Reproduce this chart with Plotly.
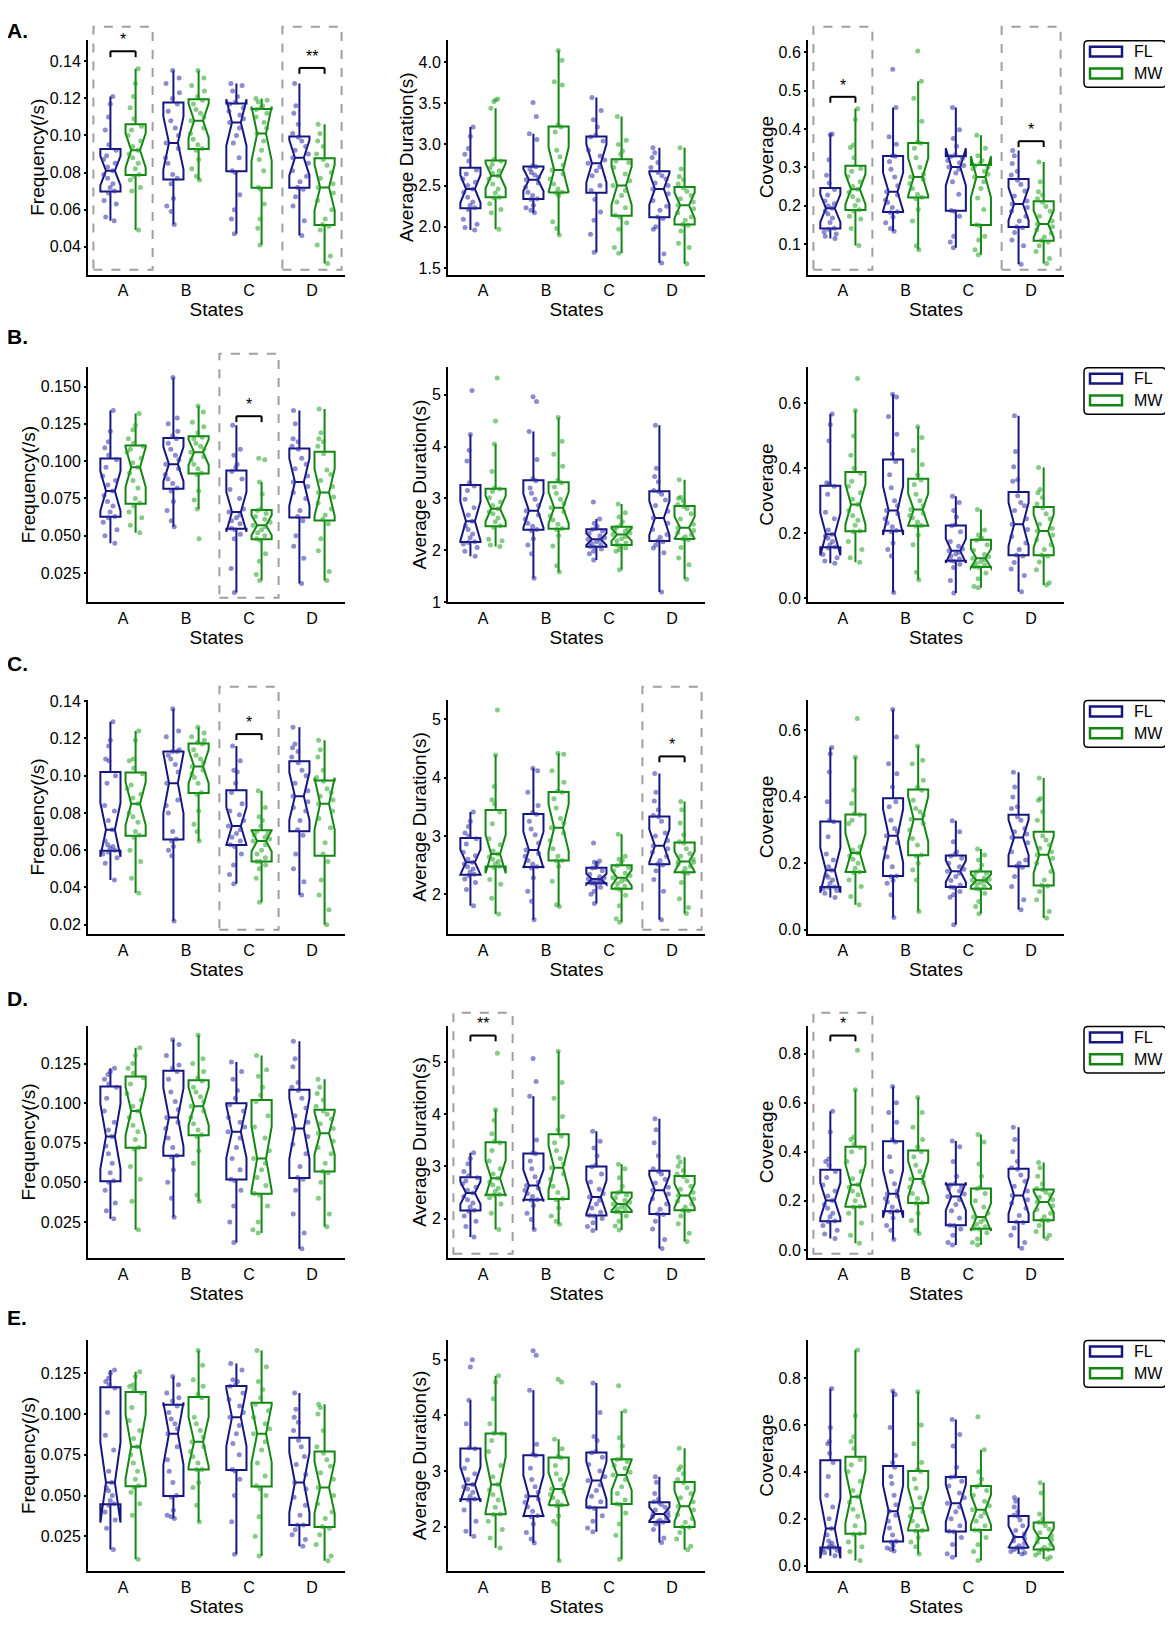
import plotly.graph_objects as go

STATES = ["A", "B", "C", "D"]
GROUPS = ["FL", "MW"]
ROW_LABELS = ["A.", "B.", "C.", "D.", "E."]
Y_TITLES = ["Frequency(/s)", "Average Duration(s)", "Coverage"]
X_TITLE = "States"

# ---- row A ----
freq_a_fl = [
    [0.054, 0.056, 0.063, 0.065, 0.069, 0.070, 0.072, 0.074, 0.077, 0.079, 0.081, 0.083, 0.085, 0.087, 0.089, 0.092, 0.095, 0.103, 0.110, 0.117, 0.121],
    [0.052, 0.059, 0.062, 0.066, 0.074, 0.077, 0.079, 0.085, 0.088, 0.093, 0.096, 0.100, 0.104, 0.108, 0.113, 0.117, 0.120, 0.123, 0.128, 0.131, 0.135],
    [0.047, 0.055, 0.060, 0.068, 0.080, 0.081, 0.088, 0.096, 0.100, 0.104, 0.107, 0.109, 0.111, 0.113, 0.115, 0.117, 0.118, 0.121, 0.124, 0.127, 0.128],
    [0.046, 0.054, 0.062, 0.067, 0.071, 0.072, 0.075, 0.078, 0.081, 0.085, 0.088, 0.090, 0.092, 0.094, 0.097, 0.099, 0.101, 0.106, 0.112, 0.116, 0.128],
]
freq_a_mw = [
    [0.049, 0.070, 0.072, 0.076, 0.078, 0.079, 0.082, 0.085, 0.088, 0.090, 0.092, 0.094, 0.097, 0.100, 0.103, 0.105, 0.109, 0.115, 0.121, 0.128, 0.136],
    [0.076, 0.078, 0.082, 0.087, 0.092, 0.093, 0.095, 0.098, 0.101, 0.104, 0.108, 0.110, 0.112, 0.114, 0.117, 0.119, 0.121, 0.124, 0.127, 0.131, 0.135],
    [0.041, 0.050, 0.055, 0.063, 0.071, 0.072, 0.081, 0.087, 0.092, 0.097, 0.101, 0.104, 0.107, 0.110, 0.112, 0.114, 0.115, 0.116, 0.118, 0.119, 0.120],
    [0.031, 0.035, 0.041, 0.049, 0.051, 0.052, 0.055, 0.060, 0.065, 0.069, 0.072, 0.074, 0.077, 0.080, 0.084, 0.087, 0.090, 0.094, 0.097, 0.101, 0.106],
]
dur_a_fl = [
    [1.96, 1.99, 2.03, 2.09, 2.21, 2.23, 2.26, 2.30, 2.36, 2.42, 2.46, 2.50, 2.54, 2.58, 2.64, 2.69, 2.80, 2.88, 2.95, 3.10, 3.21],
    [2.17, 2.20, 2.23, 2.26, 2.33, 2.34, 2.38, 2.42, 2.48, 2.53, 2.57, 2.60, 2.63, 2.66, 2.70, 2.73, 2.74, 3.06, 3.13, 3.34, 3.51],
    [1.69, 1.91, 2.08, 2.18, 2.33, 2.44, 2.50, 2.62, 2.68, 2.73, 2.77, 2.81, 2.86, 2.93, 3.04, 3.09, 3.11, 3.21, 3.30, 3.41, 3.57],
    [1.56, 1.67, 1.97, 2.00, 2.10, 2.12, 2.20, 2.25, 2.32, 2.40, 2.46, 2.50, 2.53, 2.58, 2.62, 2.66, 2.72, 2.78, 2.84, 2.90, 2.96],
]
dur_a_mw = [
    [1.97, 2.17, 2.21, 2.28, 2.35, 2.36, 2.41, 2.46, 2.52, 2.58, 2.62, 2.65, 2.68, 2.71, 2.76, 2.80, 2.82, 3.44, 3.52, 3.54, 3.55],
    [1.90, 1.98, 2.06, 2.38, 2.41, 2.42, 2.46, 2.52, 2.58, 2.64, 2.69, 2.75, 2.85, 2.93, 3.15, 3.21, 3.24, 3.72, 3.76, 4.02, 4.14],
    [1.68, 1.75, 1.97, 2.05, 2.12, 2.14, 2.23, 2.30, 2.38, 2.44, 2.50, 2.56, 2.64, 2.72, 2.78, 2.80, 2.88, 2.92, 3.00, 3.05, 3.34],
    [1.55, 1.75, 1.80, 1.95, 2.02, 2.03, 2.08, 2.12, 2.17, 2.22, 2.26, 2.30, 2.34, 2.38, 2.43, 2.47, 2.52, 2.57, 2.61, 2.70, 2.96],
]
cov_a_fl = [
    [0.114, 0.120, 0.126, 0.131, 0.138, 0.141, 0.156, 0.168, 0.178, 0.186, 0.193, 0.199, 0.205, 0.212, 0.228, 0.242, 0.259, 0.279, 0.320, 0.385, 0.387],
    [0.133, 0.140, 0.155, 0.170, 0.182, 0.184, 0.195, 0.208, 0.215, 0.228, 0.236, 0.252, 0.275, 0.295, 0.315, 0.329, 0.330, 0.360, 0.380, 0.456, 0.556],
    [0.090, 0.105, 0.120, 0.172, 0.185, 0.187, 0.230, 0.262, 0.285, 0.295, 0.301, 0.305, 0.312, 0.318, 0.324, 0.328, 0.332, 0.355, 0.375, 0.398, 0.456],
    [0.047, 0.095, 0.110, 0.130, 0.142, 0.145, 0.160, 0.172, 0.185, 0.195, 0.204, 0.212, 0.225, 0.238, 0.255, 0.266, 0.280, 0.290, 0.310, 0.330, 0.344],
]
cov_a_mw = [
    [0.096, 0.140, 0.165, 0.172, 0.186, 0.189, 0.200, 0.214, 0.224, 0.235, 0.243, 0.250, 0.262, 0.276, 0.290, 0.297, 0.325, 0.352, 0.358, 0.425, 0.453],
    [0.085, 0.095, 0.160, 0.190, 0.218, 0.222, 0.230, 0.245, 0.258, 0.268, 0.275, 0.282, 0.300, 0.325, 0.350, 0.363, 0.366, 0.420, 0.480, 0.525, 0.604],
    [0.072, 0.085, 0.110, 0.120, 0.148, 0.150, 0.190, 0.220, 0.245, 0.262, 0.275, 0.282, 0.290, 0.296, 0.300, 0.305, 0.310, 0.318, 0.330, 0.350, 0.384],
    [0.049, 0.062, 0.080, 0.095, 0.105, 0.109, 0.118, 0.128, 0.137, 0.145, 0.152, 0.160, 0.172, 0.185, 0.198, 0.209, 0.218, 0.228, 0.236, 0.262, 0.314],
]

# ---- row B ----
freq_b_fl = [
    [0.045, 0.050, 0.054, 0.059, 0.062, 0.063, 0.066, 0.070, 0.073, 0.077, 0.080, 0.084, 0.087, 0.090, 0.096, 0.101, 0.104, 0.109, 0.113, 0.120, 0.134],
    [0.056, 0.060, 0.067, 0.073, 0.080, 0.082, 0.085, 0.088, 0.091, 0.095, 0.098, 0.101, 0.104, 0.108, 0.112, 0.115, 0.117, 0.120, 0.125, 0.129, 0.156],
    [0.012, 0.028, 0.048, 0.051, 0.054, 0.055, 0.058, 0.060, 0.062, 0.064, 0.066, 0.068, 0.075, 0.081, 0.088, 0.093, 0.096, 0.098, 0.104, 0.108, 0.124],
    [0.018, 0.035, 0.043, 0.050, 0.060, 0.063, 0.067, 0.075, 0.079, 0.083, 0.086, 0.090, 0.095, 0.098, 0.102, 0.108, 0.110, 0.113, 0.115, 0.125, 0.134],
]
freq_b_mw = [
    [0.052, 0.057, 0.062, 0.066, 0.070, 0.072, 0.075, 0.082, 0.087, 0.092, 0.096, 0.099, 0.102, 0.106, 0.108, 0.110, 0.112, 0.115, 0.121, 0.124, 0.132],
    [0.048, 0.068, 0.074, 0.080, 0.091, 0.092, 0.095, 0.098, 0.101, 0.103, 0.106, 0.108, 0.110, 0.112, 0.115, 0.116, 0.119, 0.123, 0.126, 0.133, 0.137],
    [0.020, 0.024, 0.033, 0.038, 0.047, 0.048, 0.050, 0.052, 0.054, 0.056, 0.057, 0.059, 0.061, 0.063, 0.065, 0.067, 0.068, 0.078, 0.086, 0.101, 0.102],
    [0.020, 0.026, 0.040, 0.048, 0.058, 0.061, 0.064, 0.068, 0.072, 0.076, 0.079, 0.083, 0.087, 0.091, 0.094, 0.105, 0.110, 0.113, 0.115, 0.119, 0.135],
]
dur_b_fl = [
    [1.88, 1.98, 2.05, 2.12, 2.15, 2.16, 2.24, 2.31, 2.40, 2.47, 2.56, 2.68, 2.82, 2.98, 3.15, 3.24, 3.30, 3.72, 3.93, 4.23, 5.08],
    [1.46, 1.93, 2.10, 2.22, 2.38, 2.40, 2.46, 2.52, 2.60, 2.68, 2.76, 2.86, 2.98, 3.10, 3.20, 3.34, 3.38, 3.75, 4.29, 4.87, 4.96],
    [1.81, 1.93, 1.98, 2.02, 2.06, 2.07, 2.10, 2.13, 2.16, 2.19, 2.21, 2.24, 2.28, 2.32, 2.37, 2.40, 2.42, 2.46, 2.52, 2.60, 2.93],
    [1.19, 1.95, 2.04, 2.10, 2.16, 2.18, 2.25, 2.30, 2.40, 2.52, 2.62, 2.75, 2.86, 2.97, 3.08, 3.13, 3.15, 3.32, 3.42, 3.58, 4.41],
]
dur_b_mw = [
    [2.07, 2.10, 2.18, 2.21, 2.44, 2.47, 2.55, 2.62, 2.70, 2.74, 2.80, 2.86, 2.93, 3.01, 3.13, 3.18, 3.20, 3.52, 4.05, 4.49, 5.32],
    [1.58, 1.70, 2.08, 2.28, 2.40, 2.42, 2.50, 2.58, 2.66, 2.74, 2.82, 2.90, 2.98, 3.10, 3.22, 3.30, 3.35, 3.62, 3.85, 4.10, 4.56],
    [1.62, 1.98, 2.01, 2.04, 2.09, 2.10, 2.14, 2.18, 2.22, 2.26, 2.30, 2.33, 2.36, 2.39, 2.42, 2.44, 2.48, 2.55, 2.64, 2.72, 2.89],
    [1.44, 1.72, 1.85, 2.05, 2.20, 2.22, 2.26, 2.30, 2.34, 2.38, 2.43, 2.50, 2.60, 2.70, 2.80, 2.84, 2.88, 2.95, 3.00, 3.02, 3.36],
]
cov_b_fl = [
    [0.108, 0.115, 0.125, 0.135, 0.155, 0.158, 0.165, 0.175, 0.185, 0.192, 0.197, 0.210, 0.245, 0.265, 0.320, 0.345, 0.352, 0.356, 0.485, 0.535, 0.567],
    [0.018, 0.130, 0.150, 0.170, 0.205, 0.209, 0.220, 0.232, 0.245, 0.260, 0.270, 0.285, 0.300, 0.340, 0.380, 0.421, 0.445, 0.505, 0.560, 0.620, 0.628],
    [0.016, 0.055, 0.095, 0.105, 0.114, 0.116, 0.122, 0.130, 0.136, 0.142, 0.146, 0.152, 0.160, 0.175, 0.205, 0.223, 0.226, 0.250, 0.270, 0.295, 0.314],
    [0.020, 0.070, 0.090, 0.110, 0.130, 0.133, 0.150, 0.170, 0.190, 0.212, 0.228, 0.245, 0.270, 0.285, 0.295, 0.316, 0.360, 0.365, 0.405, 0.452, 0.562],
]
cov_b_mw = [
    [0.111, 0.125, 0.150, 0.175, 0.205, 0.207, 0.225, 0.240, 0.255, 0.270, 0.289, 0.305, 0.325, 0.345, 0.360, 0.385, 0.400, 0.440, 0.500, 0.578, 0.677],
    [0.057, 0.080, 0.165, 0.195, 0.222, 0.224, 0.235, 0.248, 0.255, 0.262, 0.273, 0.285, 0.300, 0.320, 0.350, 0.364, 0.380, 0.412, 0.455, 0.495, 0.528],
    [0.032, 0.036, 0.060, 0.078, 0.095, 0.097, 0.102, 0.108, 0.113, 0.118, 0.123, 0.128, 0.135, 0.148, 0.165, 0.179, 0.183, 0.186, 0.195, 0.210, 0.273],
    [0.041, 0.048, 0.088, 0.112, 0.130, 0.133, 0.150, 0.165, 0.180, 0.195, 0.207, 0.215, 0.228, 0.245, 0.260, 0.278, 0.290, 0.310, 0.325, 0.335, 0.403],
]

# ---- row C ----
freq_c_fl = [
    [0.044, 0.053, 0.056, 0.058, 0.059, 0.060, 0.061, 0.062, 0.063, 0.065, 0.071, 0.076, 0.081, 0.084, 0.096, 0.100, 0.108, 0.109, 0.116, 0.119, 0.129],
    [0.022, 0.057, 0.060, 0.062, 0.065, 0.066, 0.070, 0.080, 0.084, 0.087, 0.096, 0.102, 0.106, 0.109, 0.111, 0.113, 0.113, 0.114, 0.121, 0.124, 0.136],
    [0.042, 0.047, 0.052, 0.058, 0.062, 0.063, 0.065, 0.067, 0.069, 0.071, 0.073, 0.076, 0.079, 0.081, 0.085, 0.091, 0.096, 0.102, 0.103, 0.108, 0.116],
    [0.036, 0.043, 0.050, 0.058, 0.068, 0.071, 0.076, 0.081, 0.083, 0.086, 0.089, 0.092, 0.096, 0.100, 0.103, 0.107, 0.110, 0.113, 0.115, 0.117, 0.126],
]
freq_c_mw = [
    [0.037, 0.045, 0.054, 0.060, 0.067, 0.068, 0.070, 0.075, 0.078, 0.080, 0.085, 0.088, 0.090, 0.093, 0.095, 0.101, 0.104, 0.108, 0.109, 0.119, 0.124],
    [0.065, 0.070, 0.074, 0.081, 0.090, 0.091, 0.096, 0.099, 0.101, 0.103, 0.105, 0.107, 0.109, 0.111, 0.114, 0.117, 0.118, 0.119, 0.121, 0.123, 0.126],
    [0.032, 0.045, 0.050, 0.052, 0.054, 0.054, 0.056, 0.058, 0.060, 0.063, 0.065, 0.066, 0.067, 0.068, 0.069, 0.070, 0.073, 0.076, 0.078, 0.083, 0.092],
    [0.020, 0.028, 0.036, 0.044, 0.054, 0.058, 0.064, 0.072, 0.077, 0.081, 0.085, 0.087, 0.089, 0.091, 0.093, 0.097, 0.099, 0.103, 0.110, 0.114, 0.119],
]
dur_c_fl = [
    [1.80, 2.08, 2.20, 2.26, 2.32, 2.34, 2.38, 2.43, 2.47, 2.52, 2.55, 2.60, 2.66, 2.72, 2.86, 2.95, 3.00, 3.05, 3.16, 3.25, 3.41],
    [1.56, 1.88, 2.05, 2.28, 2.45, 2.47, 2.52, 2.58, 2.65, 2.70, 2.76, 2.88, 3.02, 3.12, 3.25, 3.37, 3.40, 3.52, 3.75, 4.12, 4.16],
    [1.84, 2.00, 2.05, 2.12, 2.18, 2.19, 2.20, 2.22, 2.23, 2.24, 2.26, 2.28, 2.30, 2.34, 2.40, 2.45, 2.46, 2.52, 2.55, 2.57, 2.88],
    [1.56, 2.05, 2.25, 2.40, 2.50, 2.52, 2.58, 2.65, 2.72, 2.78, 2.83, 2.92, 3.00, 3.05, 3.25, 3.33, 3.35, 3.45, 3.60, 3.75, 4.07],
]
dur_c_mw = [
    [1.66, 1.93, 2.17, 2.25, 2.46, 2.48, 2.52, 2.56, 2.60, 2.64, 2.69, 2.74, 2.85, 2.95, 3.21, 3.41, 3.55, 3.62, 3.85, 4.39, 5.16],
    [1.79, 1.82, 2.22, 2.48, 2.57, 2.58, 2.65, 2.78, 2.92, 3.05, 3.14, 3.22, 3.30, 3.48, 3.64, 3.75, 3.77, 3.92, 4.12, 4.40, 4.42],
    [1.52, 1.58, 1.80, 1.98, 2.08, 2.10, 2.14, 2.18, 2.22, 2.25, 2.28, 2.32, 2.36, 2.40, 2.46, 2.49, 2.52, 2.58, 2.60, 2.65, 3.03],
    [1.67, 1.77, 1.92, 2.20, 2.36, 2.38, 2.44, 2.48, 2.52, 2.55, 2.56, 2.60, 2.65, 2.70, 2.78, 2.88, 2.90, 3.02, 3.22, 3.45, 3.59],
]
cov_c_fl = [
    [0.097, 0.110, 0.118, 0.124, 0.128, 0.129, 0.140, 0.150, 0.158, 0.165, 0.179, 0.190, 0.210, 0.228, 0.280, 0.325, 0.330, 0.385, 0.475, 0.530, 0.549],
    [0.037, 0.105, 0.140, 0.148, 0.160, 0.162, 0.190, 0.220, 0.245, 0.262, 0.283, 0.295, 0.305, 0.330, 0.370, 0.385, 0.430, 0.470, 0.500, 0.580, 0.663],
    [0.015, 0.098, 0.105, 0.115, 0.127, 0.129, 0.135, 0.148, 0.160, 0.170, 0.176, 0.182, 0.190, 0.200, 0.215, 0.222, 0.228, 0.235, 0.265, 0.295, 0.328],
    [0.060, 0.090, 0.130, 0.160, 0.188, 0.192, 0.200, 0.210, 0.235, 0.262, 0.278, 0.288, 0.295, 0.305, 0.330, 0.340, 0.365, 0.370, 0.400, 0.430, 0.474],
]
cov_c_mw = [
    [0.075, 0.100, 0.130, 0.150, 0.172, 0.174, 0.185, 0.200, 0.212, 0.222, 0.231, 0.240, 0.250, 0.320, 0.330, 0.346, 0.350, 0.380, 0.420, 0.519, 0.636],
    [0.055, 0.150, 0.180, 0.200, 0.222, 0.225, 0.255, 0.275, 0.300, 0.320, 0.333, 0.345, 0.355, 0.365, 0.390, 0.420, 0.430, 0.450, 0.500, 0.510, 0.553],
    [0.048, 0.070, 0.085, 0.110, 0.122, 0.124, 0.130, 0.137, 0.142, 0.146, 0.149, 0.152, 0.156, 0.162, 0.170, 0.174, 0.180, 0.195, 0.210, 0.225, 0.243],
    [0.035, 0.055, 0.090, 0.115, 0.132, 0.134, 0.150, 0.175, 0.200, 0.215, 0.226, 0.235, 0.245, 0.255, 0.270, 0.283, 0.330, 0.355, 0.390, 0.395, 0.457],
]

# ---- row D ----
freq_d_fl = [
    [0.027, 0.032, 0.037, 0.045, 0.050, 0.051, 0.056, 0.062, 0.068, 0.073, 0.079, 0.083, 0.088, 0.095, 0.103, 0.110, 0.112, 0.115, 0.118, 0.120, 0.122],
    [0.028, 0.040, 0.050, 0.058, 0.066, 0.067, 0.072, 0.078, 0.084, 0.088, 0.091, 0.096, 0.101, 0.107, 0.115, 0.120, 0.122, 0.124, 0.130, 0.137, 0.140],
    [0.012, 0.025, 0.035, 0.045, 0.051, 0.052, 0.058, 0.065, 0.072, 0.078, 0.082, 0.085, 0.088, 0.091, 0.095, 0.099, 0.103, 0.108, 0.115, 0.120, 0.126],
    [0.008, 0.018, 0.030, 0.045, 0.052, 0.053, 0.060, 0.068, 0.074, 0.079, 0.084, 0.088, 0.092, 0.097, 0.103, 0.108, 0.110, 0.113, 0.123, 0.128, 0.139],
]
freq_d_mw = [
    [0.020, 0.038, 0.052, 0.060, 0.071, 0.072, 0.077, 0.082, 0.086, 0.091, 0.095, 0.098, 0.102, 0.106, 0.112, 0.116, 0.119, 0.122, 0.125, 0.130, 0.135],
    [0.038, 0.042, 0.062, 0.070, 0.079, 0.080, 0.083, 0.087, 0.091, 0.095, 0.098, 0.101, 0.104, 0.107, 0.110, 0.114, 0.116, 0.120, 0.125, 0.128, 0.143],
    [0.018, 0.020, 0.025, 0.035, 0.042, 0.043, 0.048, 0.053, 0.058, 0.062, 0.065, 0.070, 0.078, 0.085, 0.092, 0.101, 0.105, 0.110, 0.117, 0.121, 0.130],
    [0.022, 0.030, 0.040, 0.050, 0.056, 0.057, 0.062, 0.068, 0.072, 0.076, 0.081, 0.084, 0.087, 0.090, 0.093, 0.095, 0.098, 0.102, 0.106, 0.110, 0.115],
]
dur_d_fl = [
    [1.65, 1.85, 1.95, 2.05, 2.14, 2.16, 2.22, 2.30, 2.36, 2.42, 2.49, 2.54, 2.60, 2.66, 2.72, 2.78, 2.82, 2.90, 3.05, 3.15, 3.26],
    [1.79, 1.98, 2.10, 2.25, 2.35, 2.36, 2.42, 2.48, 2.54, 2.58, 2.63, 2.70, 2.80, 2.95, 3.10, 3.24, 3.26, 3.50, 4.34, 4.62, 5.06],
    [1.77, 1.85, 1.92, 2.00, 2.05, 2.06, 2.12, 2.20, 2.28, 2.35, 2.41, 2.48, 2.56, 2.70, 2.85, 2.99, 3.02, 3.20, 3.35, 3.48, 3.67],
    [1.43, 1.60, 1.80, 1.95, 2.08, 2.09, 2.18, 2.28, 2.38, 2.47, 2.54, 2.60, 2.68, 2.75, 2.85, 2.90, 2.95, 3.20, 3.45, 3.70, 3.91],
]
dur_d_mw = [
    [1.79, 2.10, 2.28, 2.40, 2.45, 2.46, 2.52, 2.58, 2.64, 2.70, 2.77, 2.85, 2.95, 3.10, 3.30, 3.45, 3.48, 3.62, 3.88, 4.08, 5.16],
    [1.89, 1.95, 2.05, 2.20, 2.36, 2.38, 2.50, 2.62, 2.75, 2.85, 2.97, 3.05, 3.15, 3.30, 3.45, 3.58, 3.70, 3.95, 4.30, 4.60, 5.20],
    [1.78, 1.86, 1.95, 2.05, 2.12, 2.13, 2.16, 2.19, 2.22, 2.25, 2.28, 2.31, 2.35, 2.40, 2.45, 2.49, 2.52, 2.62, 2.78, 2.95, 3.04],
    [1.56, 1.72, 1.90, 2.05, 2.15, 2.16, 2.22, 2.28, 2.33, 2.38, 2.44, 2.50, 2.56, 2.62, 2.72, 2.80, 2.85, 2.92, 3.00, 3.08, 3.17],
]
cov_d_fl = [
    [0.047, 0.065, 0.080, 0.100, 0.115, 0.118, 0.135, 0.150, 0.170, 0.185, 0.202, 0.220, 0.240, 0.265, 0.295, 0.320, 0.345, 0.360, 0.370, 0.480, 0.565],
    [0.043, 0.080, 0.100, 0.130, 0.155, 0.159, 0.175, 0.195, 0.210, 0.220, 0.229, 0.240, 0.270, 0.320, 0.380, 0.440, 0.450, 0.520, 0.560, 0.600, 0.666],
    [0.020, 0.030, 0.060, 0.085, 0.100, 0.101, 0.130, 0.160, 0.185, 0.205, 0.218, 0.228, 0.240, 0.250, 0.258, 0.266, 0.270, 0.300, 0.360, 0.420, 0.444],
    [0.007, 0.030, 0.060, 0.090, 0.112, 0.114, 0.140, 0.170, 0.190, 0.205, 0.222, 0.240, 0.260, 0.280, 0.305, 0.329, 0.335, 0.360, 0.400, 0.450, 0.500],
]
cov_d_mw = [
    [0.027, 0.060, 0.110, 0.150, 0.175, 0.177, 0.200, 0.225, 0.240, 0.255, 0.266, 0.290, 0.320, 0.360, 0.400, 0.417, 0.430, 0.450, 0.460, 0.652, 0.813],
    [0.067, 0.080, 0.120, 0.150, 0.190, 0.192, 0.210, 0.230, 0.255, 0.275, 0.289, 0.300, 0.320, 0.345, 0.380, 0.400, 0.420, 0.450, 0.500, 0.560, 0.621],
    [0.020, 0.030, 0.045, 0.070, 0.085, 0.087, 0.095, 0.105, 0.115, 0.125, 0.134, 0.150, 0.175, 0.200, 0.230, 0.249, 0.255, 0.300, 0.350, 0.440, 0.470],
    [0.047, 0.060, 0.075, 0.100, 0.120, 0.121, 0.135, 0.150, 0.165, 0.180, 0.195, 0.205, 0.215, 0.225, 0.235, 0.245, 0.250, 0.270, 0.300, 0.335, 0.356],
]

# ---- row E ----
freq_e_fl = [
    [0.017, 0.030, 0.035, 0.040, 0.044, 0.045, 0.047, 0.050, 0.053, 0.055, 0.058, 0.065, 0.078, 0.087, 0.101, 0.116, 0.118, 0.120, 0.122, 0.125, 0.127],
    [0.036, 0.037, 0.038, 0.041, 0.049, 0.050, 0.058, 0.065, 0.072, 0.080, 0.088, 0.091, 0.094, 0.097, 0.101, 0.105, 0.108, 0.110, 0.113, 0.118, 0.123],
    [0.014, 0.034, 0.050, 0.060, 0.065, 0.066, 0.075, 0.082, 0.088, 0.093, 0.098, 0.101, 0.105, 0.109, 0.113, 0.117, 0.118, 0.120, 0.121, 0.127, 0.131],
    [0.019, 0.023, 0.026, 0.029, 0.032, 0.032, 0.038, 0.044, 0.049, 0.054, 0.058, 0.063, 0.069, 0.074, 0.080, 0.084, 0.090, 0.095, 0.098, 0.103, 0.113],
]
freq_e_mw = [
    [0.011, 0.038, 0.045, 0.052, 0.055, 0.056, 0.060, 0.065, 0.070, 0.075, 0.080, 0.085, 0.090, 0.096, 0.104, 0.113, 0.115, 0.117, 0.118, 0.123, 0.126],
    [0.034, 0.044, 0.055, 0.058, 0.066, 0.066, 0.070, 0.074, 0.077, 0.080, 0.083, 0.086, 0.090, 0.094, 0.098, 0.110, 0.112, 0.117, 0.121, 0.130, 0.139],
    [0.013, 0.025, 0.037, 0.050, 0.054, 0.056, 0.062, 0.070, 0.078, 0.083, 0.088, 0.091, 0.094, 0.098, 0.102, 0.106, 0.110, 0.115, 0.120, 0.129, 0.139],
    [0.010, 0.013, 0.020, 0.026, 0.030, 0.031, 0.036, 0.040, 0.045, 0.050, 0.055, 0.060, 0.064, 0.068, 0.072, 0.076, 0.080, 0.090, 0.100, 0.104, 0.106],
]
dur_e_fl = [
    [1.83, 1.92, 2.10, 2.30, 2.48, 2.50, 2.55, 2.62, 2.68, 2.72, 2.76, 2.85, 2.95, 3.05, 3.20, 3.40, 3.42, 3.85, 4.27, 4.87, 5.00],
    [1.71, 1.78, 1.90, 2.05, 2.18, 2.20, 2.28, 2.36, 2.44, 2.50, 2.55, 2.62, 2.72, 2.85, 3.05, 3.28, 3.30, 3.48, 4.45, 5.08, 5.16],
    [1.91, 1.98, 2.10, 2.20, 2.33, 2.35, 2.45, 2.55, 2.65, 2.75, 2.83, 2.90, 3.00, 3.12, 3.25, 3.33, 3.35, 3.55, 3.62, 4.05, 4.58],
    [1.72, 1.80, 1.95, 2.05, 2.08, 2.09, 2.12, 2.15, 2.18, 2.20, 2.23, 2.26, 2.30, 2.35, 2.40, 2.44, 2.45, 2.50, 2.60, 2.80, 2.90],
]
dur_e_mw = [
    [1.62, 1.80, 1.95, 2.10, 2.22, 2.23, 2.35, 2.48, 2.58, 2.66, 2.76, 2.90, 3.10, 3.35, 3.55, 3.67, 3.68, 3.85, 4.30, 4.60, 4.71],
    [1.39, 2.05, 2.10, 2.20, 2.38, 2.39, 2.45, 2.52, 2.58, 2.63, 2.68, 2.75, 2.85, 2.95, 3.10, 3.24, 3.26, 3.40, 3.57, 4.60, 4.65],
    [1.42, 1.85, 2.05, 2.25, 2.40, 2.41, 2.48, 2.60, 2.72, 2.85, 2.93, 2.98, 3.05, 3.10, 3.17, 3.21, 3.22, 3.45, 3.60, 4.08, 4.53],
    [1.59, 1.65, 1.78, 1.90, 1.99, 2.00, 2.08, 2.15, 2.22, 2.30, 2.37, 2.45, 2.52, 2.60, 2.70, 2.79, 2.85, 2.95, 3.03, 3.08, 3.41],
]
cov_e_fl = [
    [0.042, 0.055, 0.065, 0.070, 0.076, 0.078, 0.085, 0.095, 0.105, 0.130, 0.158, 0.200, 0.250, 0.300, 0.380, 0.440, 0.480, 0.520, 0.530, 0.590, 0.756],
    [0.062, 0.068, 0.075, 0.085, 0.100, 0.104, 0.130, 0.160, 0.190, 0.215, 0.232, 0.260, 0.300, 0.350, 0.380, 0.420, 0.440, 0.470, 0.590, 0.730, 0.745],
    [0.035, 0.050, 0.090, 0.120, 0.144, 0.146, 0.170, 0.200, 0.230, 0.250, 0.266, 0.290, 0.310, 0.340, 0.360, 0.377, 0.380, 0.420, 0.510, 0.560, 0.624],
    [0.049, 0.055, 0.060, 0.068, 0.075, 0.076, 0.085, 0.095, 0.105, 0.115, 0.122, 0.135, 0.150, 0.170, 0.195, 0.211, 0.215, 0.230, 0.250, 0.275, 0.291],
]
cov_e_mw = [
    [0.021, 0.060, 0.080, 0.100, 0.134, 0.136, 0.170, 0.210, 0.240, 0.270, 0.294, 0.320, 0.360, 0.400, 0.430, 0.453, 0.500, 0.530, 0.550, 0.640, 0.920],
    [0.049, 0.080, 0.100, 0.120, 0.148, 0.150, 0.170, 0.190, 0.210, 0.230, 0.245, 0.265, 0.290, 0.330, 0.370, 0.402, 0.410, 0.440, 0.520, 0.600, 0.742],
    [0.021, 0.060, 0.090, 0.120, 0.150, 0.152, 0.170, 0.190, 0.210, 0.225, 0.238, 0.255, 0.275, 0.300, 0.320, 0.338, 0.345, 0.370, 0.400, 0.495, 0.635],
    [0.028, 0.035, 0.045, 0.055, 0.068, 0.069, 0.078, 0.090, 0.100, 0.110, 0.118, 0.128, 0.140, 0.155, 0.170, 0.183, 0.185, 0.200, 0.220, 0.310, 0.354],
]

PANELS = [
    [(freq_a_fl, freq_a_mw), (dur_a_fl, dur_a_mw), (cov_a_fl, cov_a_mw)],
    [(freq_b_fl, freq_b_mw), (dur_b_fl, dur_b_mw), (cov_b_fl, cov_b_mw)],
    [(freq_c_fl, freq_c_mw), (dur_c_fl, dur_c_mw), (cov_c_fl, cov_c_mw)],
    [(freq_d_fl, freq_d_mw), (dur_d_fl, dur_d_mw), (cov_d_fl, cov_d_mw)],
    [(freq_e_fl, freq_e_mw), (dur_e_fl, dur_e_mw), (cov_e_fl, cov_e_mw)],
]

# significant comparisons: (row, column, state, stars)
SIGNIF = [
    (0, 0, "A", "*"), (0, 0, "D", "**"),
    (0, 2, "A", "*"), (0, 2, "D", "*"),
    (1, 0, "C", "*"),
    (2, 0, "C", "*"), (2, 1, "D", "*"),
    (3, 1, "A", "**"), (3, 2, "A", "*"),
]

# ---- styling / layout ----
# the page puts some space around the figure, so it is drawn a bit smaller
# than the window and screen positions below are shifted by that space
OFF_X, OFF_Y = 8, 15
FW, FH = 1173 - 2 * OFF_X, 1614
COLORS = {"FL": "#16167f", "MW": "#138613"}
POINT_COLORS = {"FL": "rgba(45,45,165,0.55)", "MW": "rgba(35,160,35,0.55)"}
FONT = "Arial, Liberation Sans, sans-serif"

COL_PX = [(88, 345), (448, 705), (808, 1064)]
# the last row sits a little higher so its axis title stays on the page
ROW_PX = [(40, 277), (370, 608), (706, 943), (1035, 1270), (1352, 1586)]
LABEL_Y_PX = [15, 340, 670, 1008, 1330]
X_RANGE = [-0.556, 3.524]

Y_RANGES = [
    [(0.025, 0.1516), (1.42, 4.27), (0.02, 0.633)],
    [(0.0053, 0.1633), (0.99, 5.54), (-0.013, 0.713)],
    [(0.0148, 0.1409), (1.31, 5.34), (-0.014, 0.693)],
    [(0.002, 0.149), (1.24, 5.69), (-0.034, 0.914)],
    [(0.0035, 0.1457), (1.2, 5.36), (-0.025, 0.965)],
]
Y_TICKS = [
    [(0.04, 0.02, ".2f"), (1.5, 0.5, ".1f"), (0.1, 0.1, ".1f")],
    [(0.025, 0.025, ".3f"), (1, 1, "d"), (0, 0.2, ".1f")],
    [(0.02, 0.02, ".2f"), (2, 1, "d"), (0, 0.2, ".1f")],
    [(0.025, 0.025, ".3f"), (2, 1, "d"), (0, 0.2, ".1f")],
    [(0.025, 0.025, ".3f"), (2, 1, "d"), (0, 0.2, ".1f")],
]
# bracket height (fraction of the axis domain) for each significant comparison
BRACKET_Y = [0.951, 0.88, 0.757, 0.568, 0.79, 0.853, 0.758, 0.957, 0.957]


def sx(x):
    return (x - OFF_X) / FW


def sy(y):
    return 1 - (y - OFF_Y) / FH


def xfrac(v):
    return (v - X_RANGE[0]) / (X_RANGE[1] - X_RANGE[0])


fig = go.Figure()
layout = dict(
    width=FW, height=FH,
    margin=dict(l=0, r=0, t=0, b=0),
    paper_bgcolor="white", plot_bgcolor="white",
    font=dict(family=FONT, color="black", size=16),
    boxmode="group", boxgap=0.2, boxgroupgap=0.2,
    showlegend=False,
    shapes=[], annotations=[],
)

for r in range(5):
    layout["annotations"].append(dict(
        x=sx(5), y=min(sy(LABEL_Y_PX[r]), 0.999), xref="paper", yref="paper",
        text="<b>%s</b>" % ROW_LABELS[r], showarrow=False,
        xanchor="left", yanchor="middle" if r else "top", font=dict(size=21, family=FONT),
    ))

    # legend drawn by hand: rounded frame, outlined swatches and labels
    top = ROW_PX[r][0] + 1
    lx0, lx1, ly0, ly1 = 1084, 1166, top, top + 47
    rad = 4
    pts = [
        ("M", lx0 + rad, ly0), ("L", lx1 - rad, ly0), ("Q", lx1, ly0, lx1, ly0 + rad),
        ("L", lx1, ly1 - rad), ("Q", lx1, ly1, lx1 - rad, ly1), ("L", lx0 + rad, ly1),
        ("Q", lx0, ly1, lx0, ly1 - rad), ("L", lx0, ly0 + rad), ("Q", lx0, ly0, lx0 + rad, ly0),
    ]
    path = ""
    for p in pts:
        coords = ["%.5f,%.5f" % (sx(p[i]), sy(p[i + 1])) for i in range(1, len(p), 2)]
        path += p[0] + " " + " ".join(coords) + " "
    layout["shapes"].append(dict(type="path", xref="paper", yref="paper", path=path + "Z",
                                 line=dict(color="black", width=1.5), fillcolor="white"))
    for i, g in enumerate(GROUPS):
        top_i = top + 6 + 22 * i
        layout["shapes"].append(dict(type="rect", xref="paper", yref="paper",
                                     x0=sx(1090), y0=sy(top_i), x1=sx(1122), y1=sy(top_i + 10),
                                     line=dict(color=COLORS[g], width=2.5),
                                     fillcolor="rgba(0,0,0,0)"))
        layout["annotations"].append(dict(
            x=sx(1132), y=sy(top_i + 5), xref="paper", yref="paper", text=g, showarrow=False,
            xanchor="left", yanchor="middle", font=dict(size=16, family=FONT),
        ))

    for c in range(3):
        k = r * 3 + c
        s = "" if k == 0 else str(k + 1)
        x0, x1 = COL_PX[c]
        y0, y1 = ROW_PX[r]
        tick0, dtick, fmt = Y_TICKS[r][c]
        layout["xaxis" + s] = dict(
            domain=[sx(x0), sx(x1)], anchor="y" + s,
            type="category", categoryorder="array", categoryarray=STATES,
            range=X_RANGE, showline=True, linecolor="black", linewidth=2,
            ticks="", showgrid=False, zeroline=False, tickfont=dict(size=16),
            title=dict(text=X_TITLE, font=dict(size=19), standoff=0),
        )
        layout["yaxis" + s] = dict(
            domain=[sy(y1), sy(y0)], anchor="x" + s,
            range=list(Y_RANGES[r][c]), tick0=tick0, dtick=dtick, tickformat=fmt,
            showline=True, linecolor="black", linewidth=2,
            ticks="outside", ticklen=2, tickwidth=1.5, tickcolor="black",
            showgrid=False, zeroline=False, tickfont=dict(size=16),
            title=dict(text=Y_TITLES[c], font=dict(size=19), standoff=0),
        )
        for g, vals in zip(GROUPS, PANELS[r][c]):
            fig.add_trace(go.Box(
                x=[st for st, v in zip(STATES, vals) for _ in v],
                y=[y for v in vals for y in v],
                name=g, offsetgroup=g, xaxis="x" + s, yaxis="y" + s,
                boxpoints="all", jitter=0.9, pointpos=0,
                notched=True, notchwidth=0.28, whiskerwidth=0,
                line=dict(color=COLORS[g], width=2),
                fillcolor="rgba(255,255,255,0)",
                marker=dict(color=POINT_COLORS[g], size=5, line=dict(width=0)),
            ))

for (r, c, st, stars), by in zip(SIGNIF, BRACKET_Y):
    k = r * 3 + c
    s = "" if k == 0 else str(k + 1)
    ci = STATES.index(st)
    xr, yr = "x%s domain" % s, "y%s domain" % s
    dash = dict(color="#a0a0a0", width=2, dash="dash")
    layout["shapes"].append(dict(
        type="rect", xref=xr, yref=yr, x0=xfrac(ci - 0.47), x1=xfrac(ci + 0.47),
        y0=0.02, y1=1.055, line=dash, fillcolor="rgba(0,0,0,0)",
    ))
    blk = dict(color="black", width=2)
    xl, xrr = xfrac(ci - 0.2), xfrac(ci + 0.2)
    for seg in [(xl, by - 0.025, xl, by), (xl, by, xrr, by), (xrr, by, xrr, by - 0.025)]:
        layout["shapes"].append(dict(
            type="line", xref=xr, yref=yr, x0=seg[0], y0=seg[1], x1=seg[2], y1=seg[3], line=blk,
        ))
    layout["annotations"].append(dict(
        x=st, y=by + 0.005, xref="x" + s, yref=yr, text=stars, showarrow=False,
        xanchor="center", yanchor="bottom", font=dict(size=16, family=FONT),
    ))

fig.update_layout(**layout)
fig.write_html("out.html")
